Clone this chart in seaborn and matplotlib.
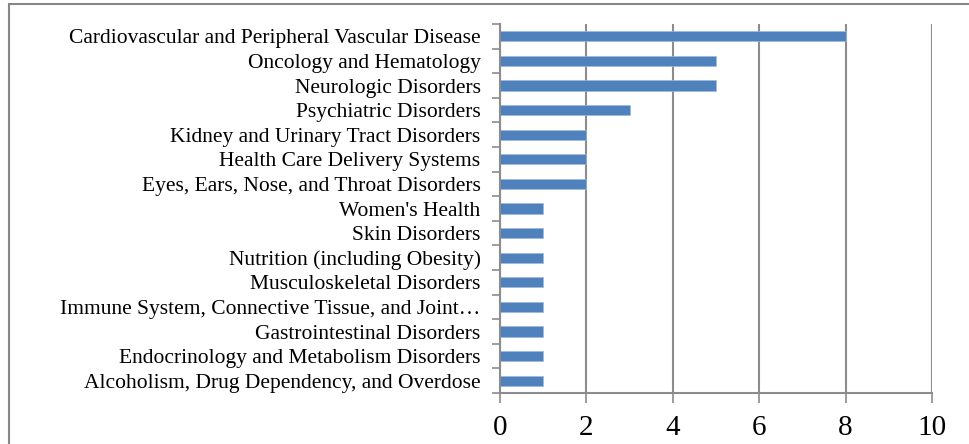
import pandas as pd
import seaborn as sns
import matplotlib.pyplot as plt
import numpy as np
from matplotlib.patches import Rectangle

# Categories (top to bottom) and their counts
categories = [
    "Cardiovascular and Peripheral Vascular Disease",
    "Oncology and Hematology",
    "Neurologic Disorders",
    "Psychiatric Disorders",
    "Kidney and Urinary Tract Disorders",
    "Health Care Delivery Systems",
    "Eyes, Ears, Nose, and Throat Disorders",
    "Women's Health",
    "Skin Disorders",
    "Nutrition (including Obesity)",
    "Musculoskeletal Disorders",
    "Immune System, Connective Tissue, and Joint\u2026",
    "Gastrointestinal Disorders",
    "Endocrinology and Metabolism Disorders",
    "Alcoholism, Drug Dependency, and Overdose",
]
counts = [8, 5, 5, 3, 2, 2, 2, 1, 1, 1, 1, 1, 1, 1, 1]
x_ticks = [0, 2, 4, 6, 8, 10]

df = pd.DataFrame({"category": categories, "count": counts})

sns.set_style("white")
plt.rcParams["font.family"] = ["Liberation Serif", "DejaVu Serif"]

fig = plt.figure(figsize=(9.7, 4.44), dpi=100)
ax = fig.add_axes([500 / 970, 1 - 393 / 444, 432 / 970, 369 / 444])

# Outer chart border (cropped at right and bottom like the original)
fig.patches.append(Rectangle((9 / 970, -0.1), 1.5, 1 - 4 / 444 + 0.1,
                             transform=fig.transFigure, fill=False,
                             edgecolor="#878787", linewidth=1.5))

sns.barplot(data=df, y="category", x="count", orient="h", color="#4F81BD",
            width=0.42, edgecolor="#9DB9DD", linewidth=0.5, saturation=1, ax=ax)

ax.set_xlim(0, 10)
ax.set_ylim(len(categories) - 0.5, -0.5)
ax.set_xticks(x_ticks)
ax.set_xticklabels([str(t) for t in x_ticks], fontsize=21)
ax.set_xlabel("")
ax.set_ylabel("")

ax.xaxis.grid(True, color="#8c8c8c", linewidth=1.5)
ax.set_axisbelow(True)

# category labels with no tick, boundary ticks as minor ticks
ax.set_yticks(np.arange(-0.5, len(categories)), minor=True)
ax.tick_params(axis="y", which="major", left=True, length=0, labelsize=15.5, pad=14, colors="black")
ax.tick_params(axis="y", which="minor", left=True, length=6, width=1.2, color="#8c8c8c", direction="out")
ax.tick_params(axis="x", which="major", bottom=True, length=7, width=1.2, color="#8c8c8c",
               labelcolor="black", direction="out", pad=9)

for side in ["top", "right"]:
    ax.spines[side].set_visible(False)
for side in ["left", "bottom"]:
    ax.spines[side].set_color("#8c8c8c")
    ax.spines[side].set_linewidth(1.5)

fig.savefig("out.png", dpi=100)
